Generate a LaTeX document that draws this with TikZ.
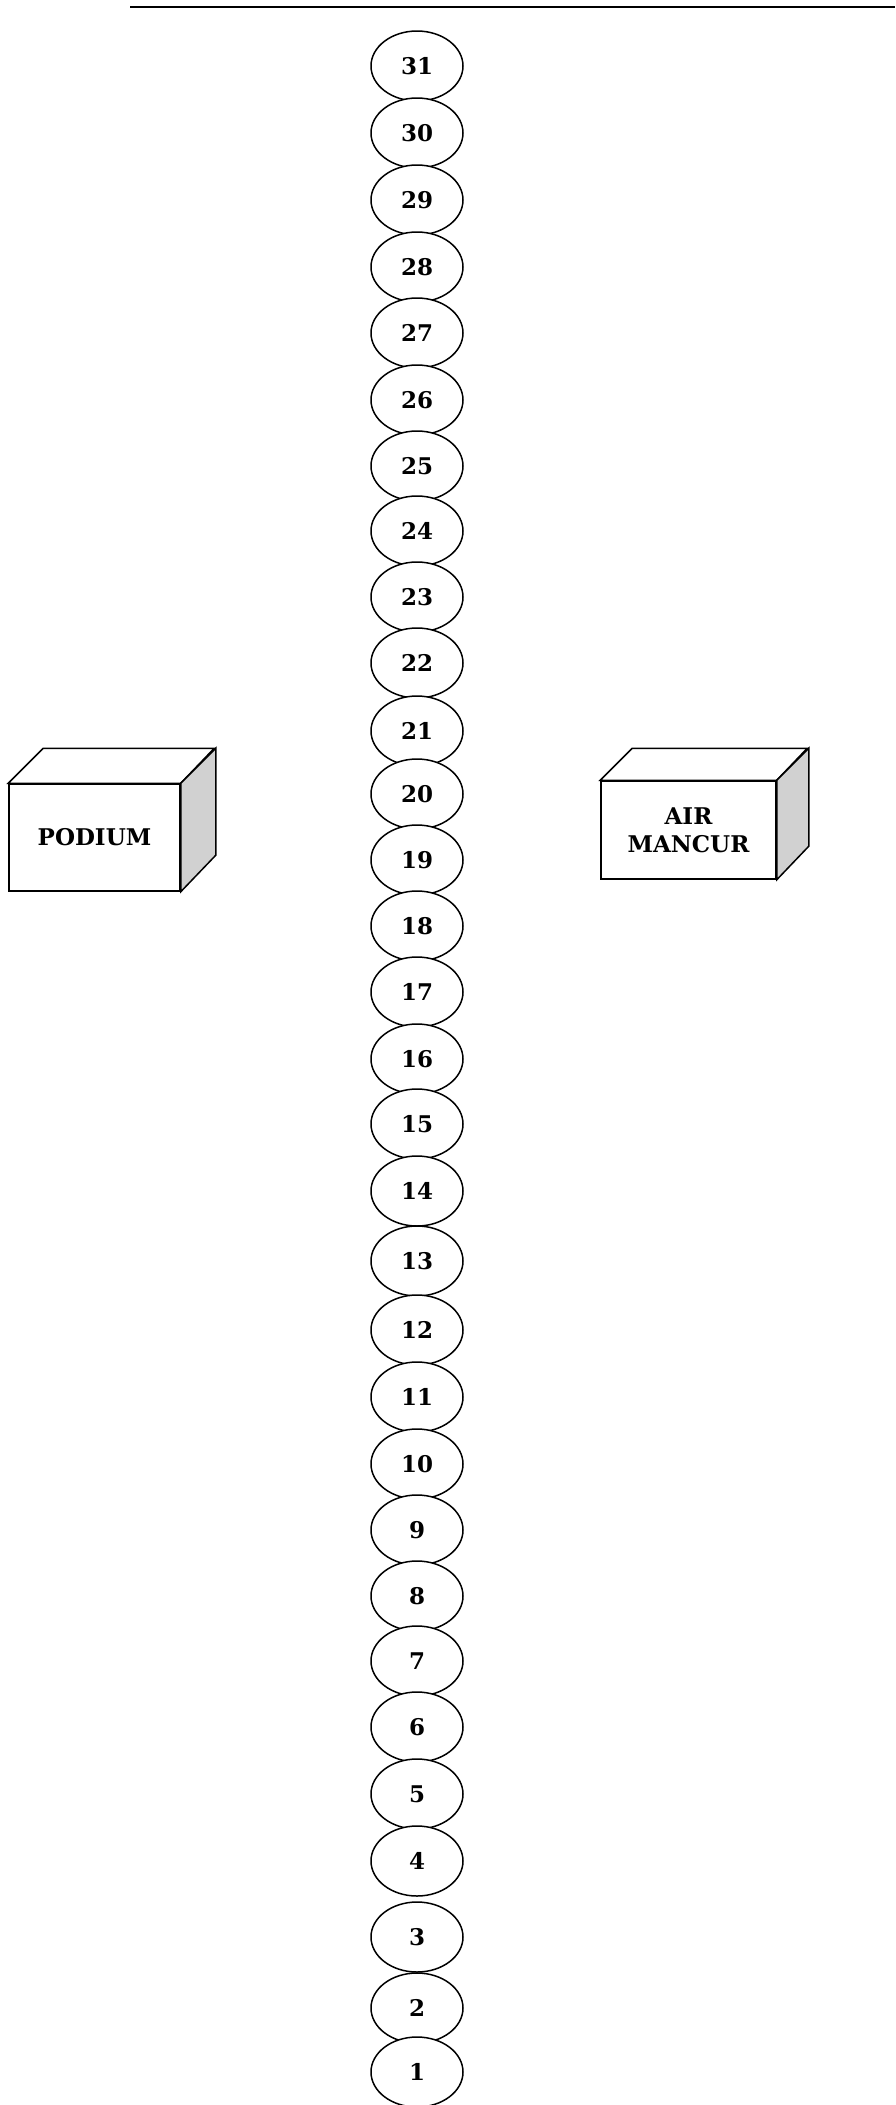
\documentclass[tikz,border=0pt]{standalone}
\usepackage{fontspec}
\setmainfont{DejaVu Serif}
\usepackage{tikz}
\usetikzlibrary{shapes.geometric}
\definecolor{sidegray}{gray}{0.82}

\begin{document}
\begin{tikzpicture}[x=0.5pt,y=-0.5pt,
    seat/.style={shape=ellipse,draw=black,fill=white,line width=0.75pt,
        minimum width=46pt,minimum height=35pt,inner sep=0pt,
        font=\fontsize{11.5}{13}\selectfont\bfseries},
    cube/.style={shape=rectangle,draw=black,fill=white,line width=0.75pt,
        align=center,inner sep=0pt,
        font=\fontsize{11.5}{14}\selectfont\bfseries}]
    \useasboundingbox (0,0) rectangle (895,2105);
    \coordinate (ls) at (130,7);
    \coordinate (le) at (895,7);
    \draw[line width=1pt] (ls) -- (le);
    % seats, numbered from the top down
    \foreach \n/\y in {31/66,30/133,29/200,28/267,27/333,26/400,25/466,24/531,
        23/597,22/663,21/731,20/794,19/860,18/926,17/992,16/1059,15/1124,
        14/1191,13/1261,12/1330,11/1397,10/1464,9/1530,8/1596,7/1661,6/1727,
        5/1794,4/1861,3/1937,2/2008,1/2072}
        \node[seat] (s\n) at (417,\y) {\n};
    \node[cube,minimum width=85.5pt,minimum height=53.5pt] (podium) at (94.5,837.5) {PODIUM};
    \draw[line width=0.75pt,fill=white] (podium.north west) -- ++(35,-35) -- ++(171,0) -- (podium.north east) -- cycle;
    \draw[line width=0.75pt,fill=sidegray] (podium.north east) -- ++(35,-35) -- ++(0,107) -- (podium.south east) -- cycle;
    \node[cube,minimum width=87.5pt,minimum height=49pt] (fountain) at (688.5,830) {AIR\\MANCUR};
    \draw[line width=0.75pt,fill=white] (fountain.north west) -- ++(32,-32) -- ++(175,0) -- (fountain.north east) -- cycle;
    \draw[line width=0.75pt,fill=sidegray] (fountain.north east) -- ++(32,-32) -- ++(0,98) -- (fountain.south east) -- cycle;
\end{tikzpicture}
\end{document}
